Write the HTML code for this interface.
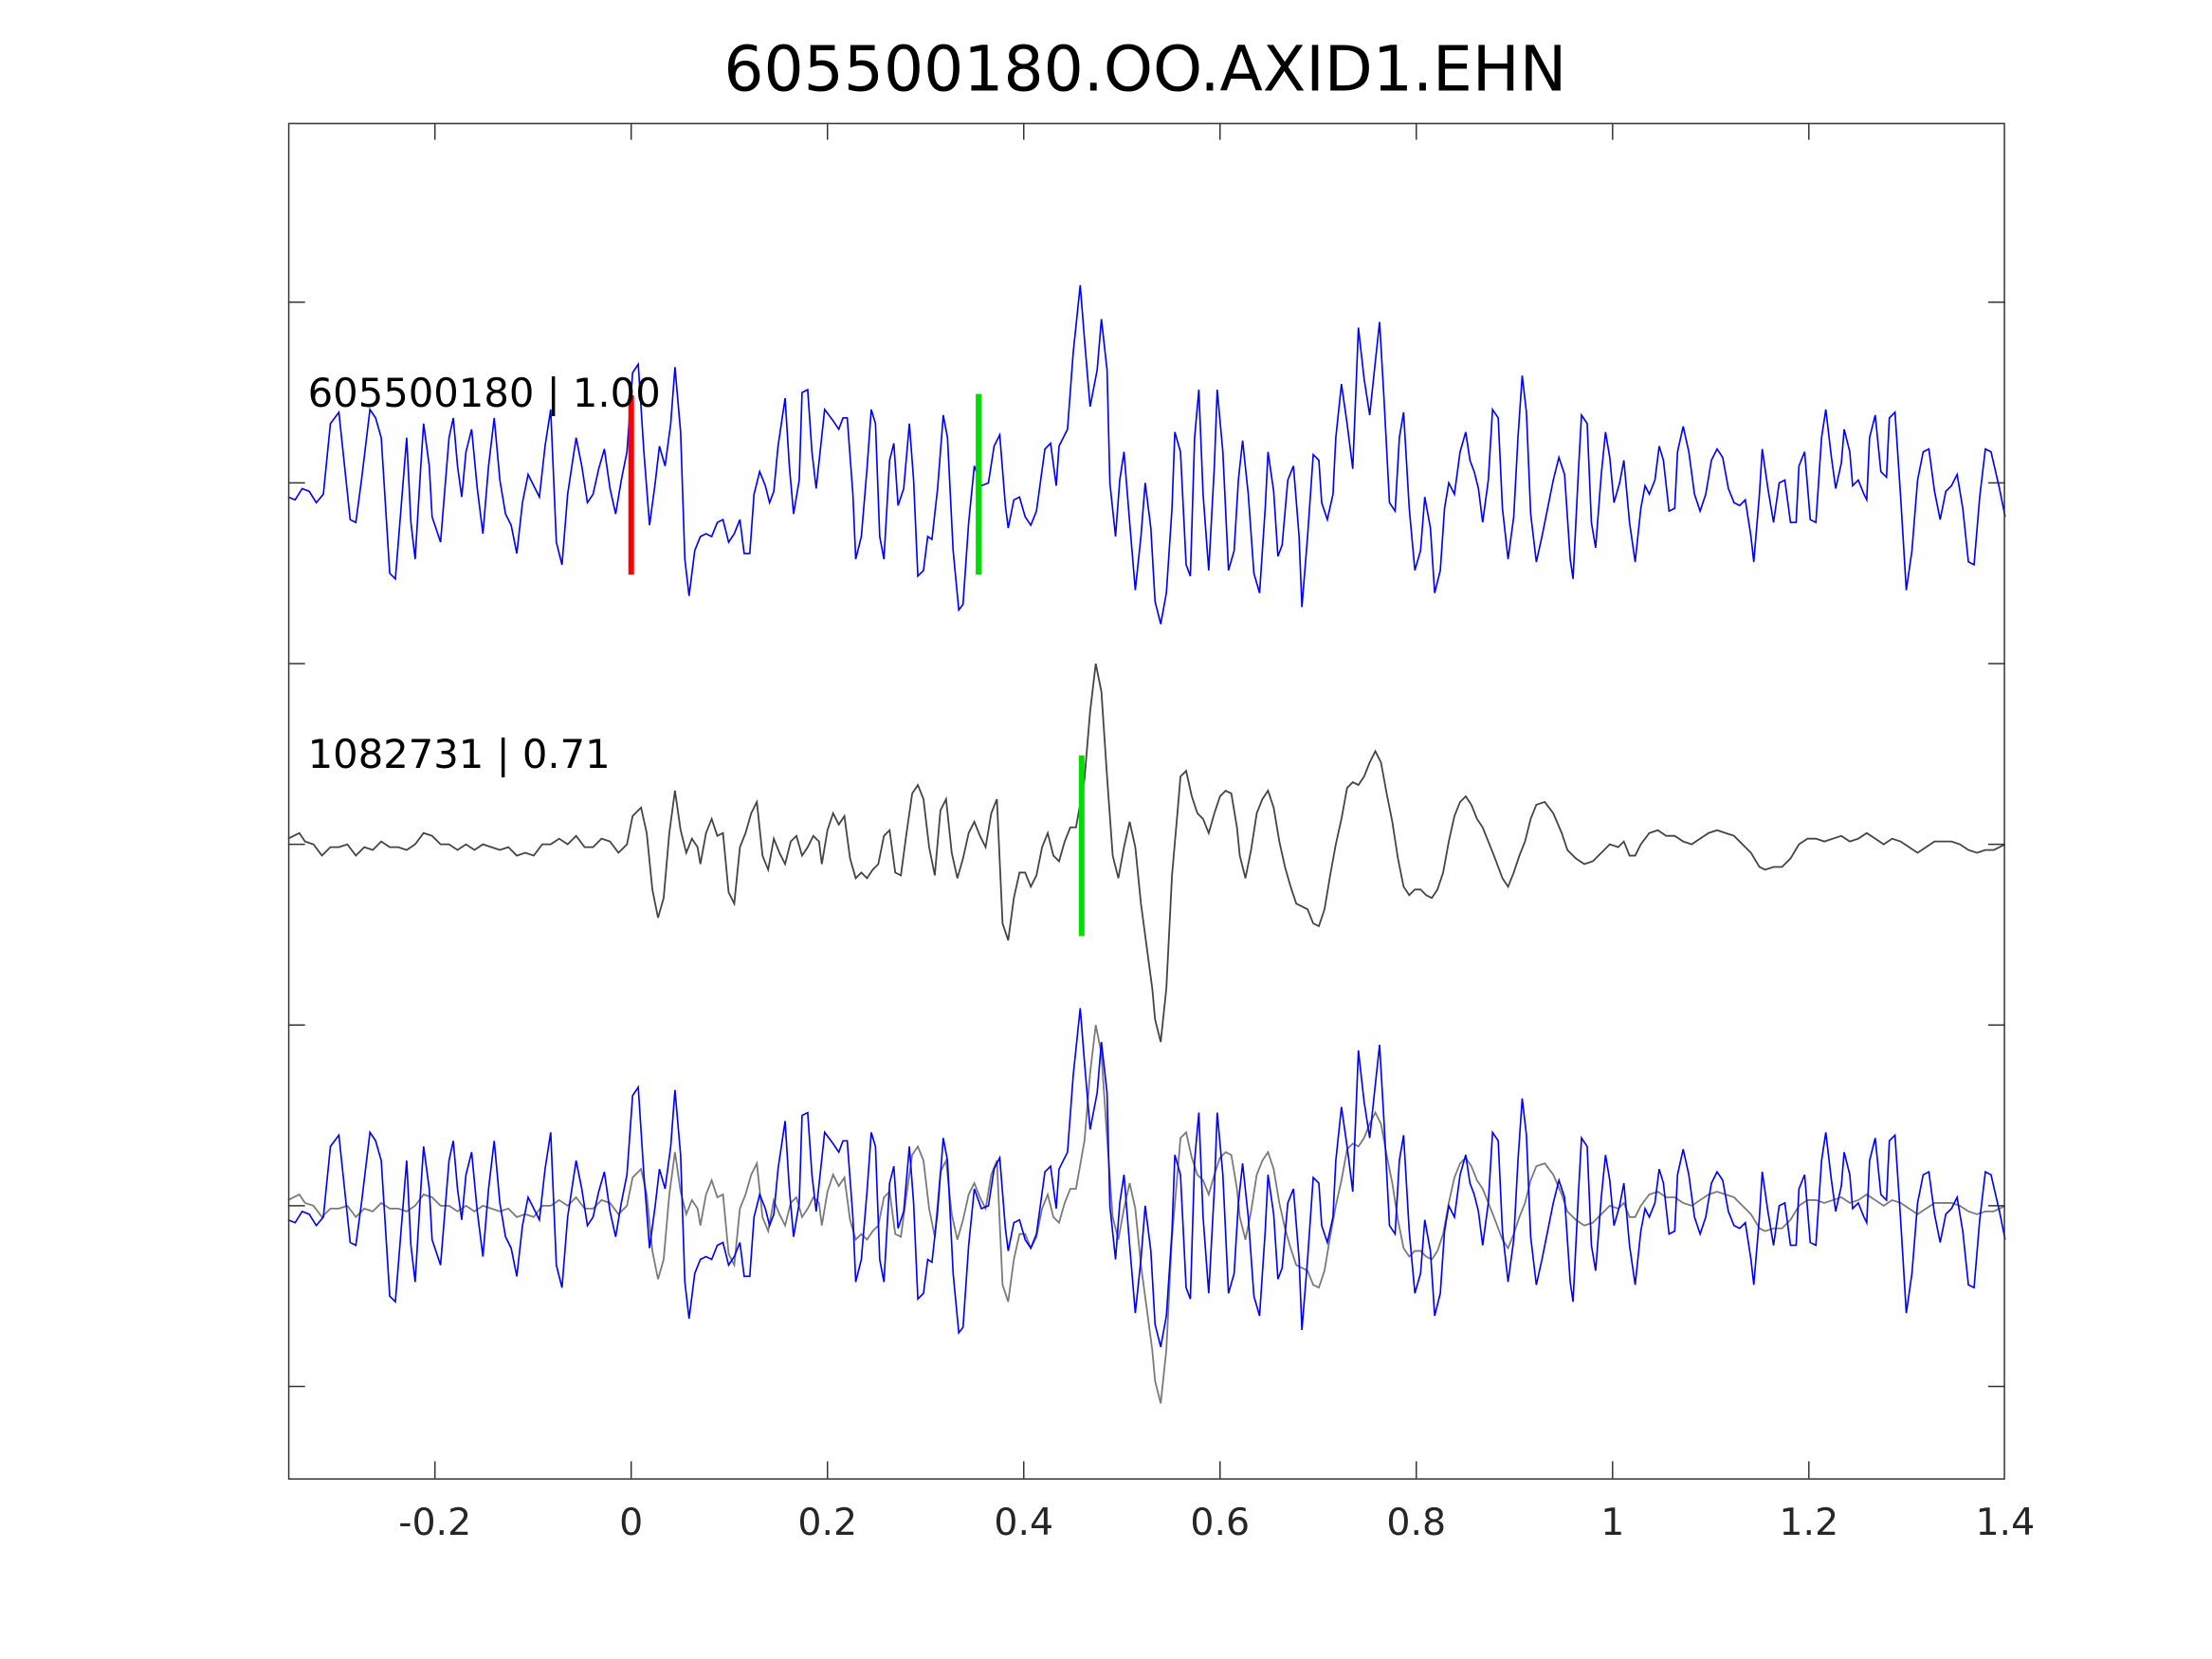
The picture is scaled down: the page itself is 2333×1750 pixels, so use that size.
<!DOCTYPE html>
<html><head><style>html,body{margin:0;padding:0;background:#fff}svg{display:block}</style></head>
<body>
<svg width="2333" height="1750" viewBox="0 0 1566.5 1175" xmlns="http://www.w3.org/2000/svg" font-family="DejaVu Sans, Liberation Sans, sans-serif">
<rect width="1566.5" height="1175" fill="#fff"/>
<text x="811" y="64" font-size="44.5" text-anchor="middle" fill="#000">605500180.OO.AXID1.EHN</text>
<defs>
<polyline id="blue" fill="none" stroke="#0000ff" stroke-width="1.1" points="204,352 209,354 214,346 219,348 224,356 229,350 234,300 240,292 244,330 248,368 252,370 256,340 262,290 266,296 270,310 276,406 280,410 284,360 288,310 291,370 294,396 298,330 300,300 304,330 306,366 312,384 318,310 321,296 324,330 327,352 330,320 334,304 338,346 342,378 346,330 350,296 354,340 358,364 362,372 366,392 370,356 374,336 378,344 382,352 386,316 390,290 394,384 398,400 402,350 408,310 412,330 416,356 420,350 424,332 428,318 432,346 436,364 440,340 444,320 448,264 452,258 456,320 460,372 464,342 467,316 471,330 475,300 478,260 482,306 485,396 488,422 492,390 496,380 500,378 504,380 508,370 512,368 516,384 520,378 524,368 527,392 531,392 534,350 538,334 542,344 545,356 548,348 551,316 556,282 559,330 562,364 566,340 568,278 572,276 575,320 578,346 584,290 590,298 594,304 597,296 600,296 604,350 606,396 610,380 614,332 617,290 620,300 623,380 626,396 630,326 633,314 636,358 640,346 644,300 647,340 650,408 654,404 657,380 660,382 664,346 668,294 671,310 675,390 679,432 682,428 686,370 690,330 695,344 700,342 704,316 708,308 712,358 714,374 718,354 722,352 726,366 730,372 734,362 737,340 740,318 744,314 748,344 750,316 756,304 760,250 765,202 768,240 772,288 777,262 780,226 784,262 786,342 790,380 793,340 796,320 800,370 804,418 808,380 811,342 815,374 818,426 822,442 826,420 830,360 832,306 836,320 840,400 843,408 846,310 849,276 852,350 856,404 860,330 862,276 866,320 870,404 874,390 877,340 880,312 884,350 888,406 892,420 896,360 898,320 902,348 905,394 908,386 912,340 916,330 920,380 922,430 926,380 930,322 934,326 936,356 940,368 944,350 946,310 950,272 954,300 958,332 962,232 966,268 970,294 974,256 977,228 980,280 984,356 988,362 991,310 994,292 998,360 1002,404 1006,390 1009,352 1013,374 1016,420 1020,404 1023,360 1026,342 1030,350 1034,320 1038,306 1041,326 1044,334 1047,346 1050,370 1054,340 1057,290 1061,296 1064,360 1068,396 1072,366 1075,310 1078,266 1081,292 1084,364 1088,398 1092,380 1096,360 1100,340 1104,324 1108,336 1112,396 1114,410 1118,330 1120,294 1124,300 1127,370 1130,388 1134,336 1137,306 1140,324 1143,356 1147,342 1150,326 1154,370 1158,398 1162,360 1165,344 1168,350 1172,340 1175,316 1178,326 1182,362 1186,360 1188,320 1192,302 1196,320 1200,350 1204,362 1208,350 1212,326 1216,318 1220,324 1224,346 1228,356 1232,358 1236,354 1240,380 1242,398 1246,350 1248,318 1252,346 1256,370 1260,342 1264,340 1268,370 1272,370 1274,330 1278,320 1282,368 1286,370 1290,310 1293,290 1297,324 1300,346 1304,328 1306,304 1310,320 1312,344 1316,340 1320,350 1322,354 1324,310 1328,294 1332,334 1336,338 1338,296 1342,292 1346,352 1350,418 1354,390 1358,340 1362,320 1366,318 1370,348 1374,368 1378,348 1382,344 1386,336 1390,360 1394,398 1398,400 1402,352 1406,318 1410,320 1416,346 1420,366"/>
<polyline id="gray" fill="none" stroke-width="1.2" points="204,594 208,592 212,590 216,596 222,598 228,606 234,600 240,600 246,598 252,606 258,600 264,602 270,596 276,600 282,600 288,602 294,598 300,590 306,592 312,598 318,598 324,602 330,598 336,602 342,598 348,600 354,602 360,600 366,606 372,604 378,606 384,598 390,598 396,594 402,598 408,592 414,600 420,600 426,594 432,596 438,604 444,598 448,578 454,572 458,590 462,630 466,650 470,636 474,590 478,560 482,588 486,604 490,594 494,600 496,612 500,590 504,580 508,592 512,590 516,632 520,640 524,600 528,590 532,576 536,568 540,606 544,616 548,594 552,604 556,612 560,596 564,592 568,606 572,600 576,592 580,596 582,612 586,588 590,576 594,584 598,578 602,608 606,622 610,618 614,622 618,616 622,612 626,592 630,588 634,618 638,620 642,590 646,562 650,556 654,566 658,600 662,620 666,574 670,566 674,604 678,622 682,608 686,590 690,582 694,592 698,600 702,576 706,566 710,654 714,666 718,636 722,618 726,618 730,628 734,620 738,600 742,590 746,606 750,610 754,596 758,586 762,586 768,552 772,504 776,470 780,490 784,550 788,606 792,622 796,600 800,582 804,600 808,640 812,670 816,700 818,722 822,738 826,700 830,620 834,574 836,550 840,546 844,564 848,576 852,580 856,590 860,576 864,564 868,560 872,562 876,586 878,606 882,622 886,602 890,576 894,566 898,560 902,572 906,596 910,614 914,628 918,640 922,642 926,644 930,654 934,656 938,644 942,620 946,598 950,580 954,558 958,554 962,556 966,550 970,540 974,532 978,540 982,562 986,582 990,608 994,628 998,634 1002,630 1006,630 1010,634 1014,636 1018,630 1022,618 1026,596 1030,578 1034,568 1038,564 1042,570 1046,580 1050,586 1054,596 1058,606 1064,622 1068,628 1072,618 1076,606 1080,596 1084,580 1088,570 1094,568 1100,576 1106,590 1110,602 1116,608 1122,612 1128,610 1134,604 1140,598 1146,600 1150,596 1154,606 1158,606 1162,598 1168,590 1174,588 1180,592 1186,592 1192,596 1198,598 1204,594 1210,590 1216,588 1222,590 1228,592 1234,598 1240,604 1246,614 1250,616 1256,614 1262,614 1268,608 1274,598 1280,594 1286,594 1292,596 1298,594 1304,592 1310,596 1316,594 1322,590 1328,594 1334,598 1340,594 1346,596 1352,600 1358,604 1364,600 1370,596 1376,596 1382,596 1388,598 1394,602 1400,604 1406,602 1412,602 1420,598"/>
</defs>
<use href="#blue"/>
<use href="#gray" stroke="#444"/>
<g transform="translate(0,256)"><use href="#gray" stroke="#7a7a7a"/></g>
<g transform="translate(0,512)"><use href="#blue"/></g>
<rect x="445" y="280" width="4" height="127" fill="#ff0000"/>
<rect x="691" y="279" width="4" height="128" fill="#00dd00"/>
<rect x="764" y="535" width="4" height="128" fill="#00dd00"/>
<text x="218" y="288" font-size="28" fill="#000">605500180 | 1.00</text>
<text x="218" y="544" font-size="28" fill="#000">1082731 | 0.71</text>
<rect x="204.5" y="87.5" width="1215" height="960" fill="none" stroke="#333" stroke-width="1"/>
<g stroke="#333" stroke-width="1">
<line x1="204" y1="214" x2="216" y2="214"/><line x1="204" y1="342" x2="216" y2="342"/><line x1="204" y1="470" x2="216" y2="470"/><line x1="204" y1="598" x2="216" y2="598"/><line x1="204" y1="726" x2="216" y2="726"/><line x1="204" y1="854" x2="216" y2="854"/><line x1="204" y1="982" x2="216" y2="982"/>
<line x1="1408" y1="214" x2="1420" y2="214"/><line x1="1408" y1="342" x2="1420" y2="342"/><line x1="1408" y1="470" x2="1420" y2="470"/><line x1="1408" y1="598" x2="1420" y2="598"/><line x1="1408" y1="726" x2="1420" y2="726"/><line x1="1408" y1="854" x2="1420" y2="854"/><line x1="1408" y1="982" x2="1420" y2="982"/>
<line x1="308" y1="1047" x2="308" y2="1035"/><line x1="447" y1="1047" x2="447" y2="1035"/><line x1="586" y1="1047" x2="586" y2="1035"/><line x1="725" y1="1047" x2="725" y2="1035"/><line x1="864" y1="1047" x2="864" y2="1035"/><line x1="1003" y1="1047" x2="1003" y2="1035"/><line x1="1142" y1="1047" x2="1142" y2="1035"/><line x1="1281" y1="1047" x2="1281" y2="1035"/>
<line x1="308" y1="87" x2="308" y2="99"/><line x1="447" y1="87" x2="447" y2="99"/><line x1="586" y1="87" x2="586" y2="99"/><line x1="725" y1="87" x2="725" y2="99"/><line x1="864" y1="87" x2="864" y2="99"/><line x1="1003" y1="87" x2="1003" y2="99"/><line x1="1142" y1="87" x2="1142" y2="99"/><line x1="1281" y1="87" x2="1281" y2="99"/>
</g>
<g font-size="26.5" fill="#262626" text-anchor="middle">
<text x="308" y="1087">-0.2</text><text x="447" y="1087">0</text><text x="586" y="1087">0.2</text><text x="725" y="1087">0.4</text><text x="864" y="1087">0.6</text><text x="1003" y="1087">0.8</text><text x="1142" y="1087">1</text><text x="1281" y="1087">1.2</text><text x="1420" y="1087">1.4</text>
</g>
</svg>
</body></html>
